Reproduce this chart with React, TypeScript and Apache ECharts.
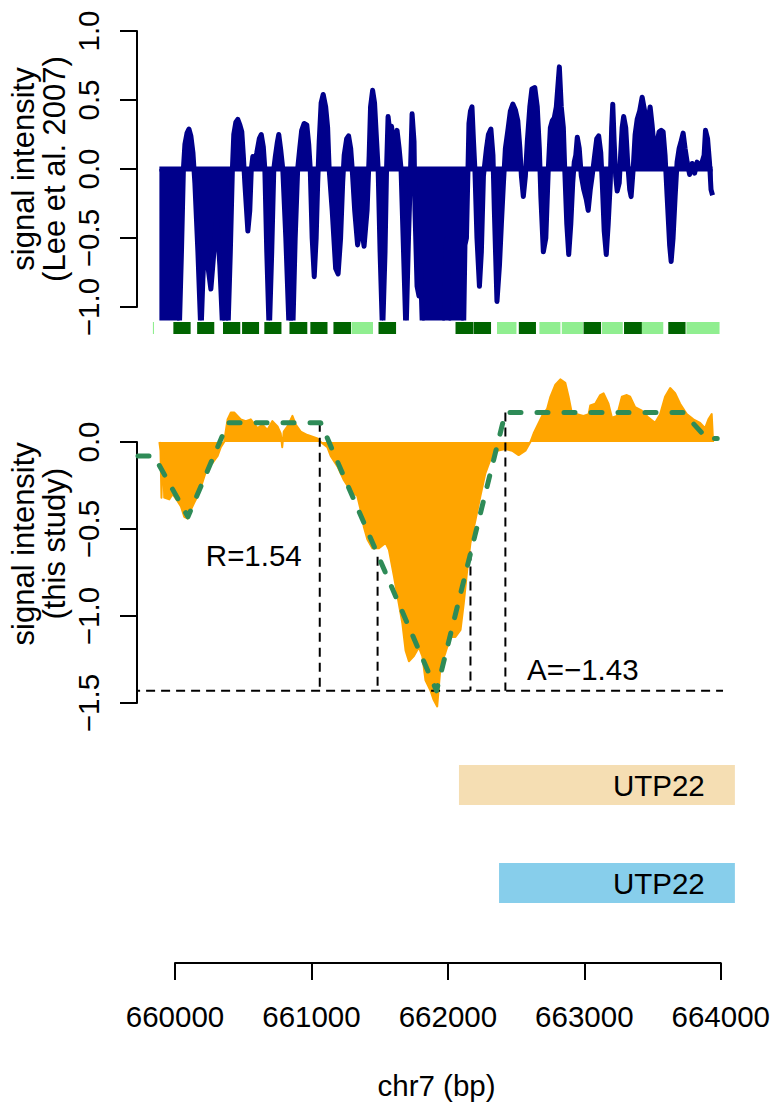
import React, { useEffect, useRef } from "react";
import * as echarts from "echarts";

// ---------- data ----------
const X_MIN = 659725;
const X_MAX = 664058;
const X_TICK_MIN = 660000;
const X_TICK_MAX = 664000;
const X_TICK_STEP = 1000;

// Lee et al. 2007 signal: [position (bp), intensity]
const leeSignal: number[][] = [
  [659880, -1.3], [659964, -1.3], [660022, -1.25], [660040, -0.6], [660054, 0], [660065, 0.18], [660080, 0.26],
  [660094, 0.29], [660108, 0.24], [660123, 0.12], [660137, -0.1], [660159, -0.6], [660181, -1.2], [660195, -0.8], [660210, -0.5],
  [660231, -0.7], [660253, -0.87], [660275, -0.6], [660296, -0.35], [660318, -0.7], [660340, -1.2], [660376, -1.2], [660394, -0.6],
  [660409, 0], [660419, 0.25], [660434, 0.34], [660448, 0.36], [660463, 0.32], [660477, 0.27], [660488, 0.1], [660499, -0.1],
  [660521, -0.45], [660535, -0.3], [660546, 0], [660557, 0.09], [660571, 0.05], [660586, 0.12], [660604, 0.22], [660618, 0.25],
  [660633, 0.16], [660644, 0], [660658, -0.6], [660676, -1.2], [660694, -0.6], [660709, 0], [660720, 0.09], [660734, 0.19],
  [660745, 0.25], [660759, 0.14], [660774, 0], [660796, -0.5], [660821, -1.2], [660846, -1.2], [660864, -0.5], [660882, 0],
  [660897, 0.15], [660911, 0.28], [660929, 0.33], [660948, 0.32], [660962, 0.18], [660973, 0], [660987, -0.5], [661002, -0.78],
  [661016, -0.5], [661027, -0.1], [661038, 0.2], [661052, 0.48], [661067, 0.54], [661085, 0.45], [661099, 0.3], [661110, 0],
  [661132, -0.3], [661157, -0.72], [661175, -0.76], [661193, -0.5], [661208, -0.1], [661219, 0.1], [661237, 0.22], [661251, 0.24],
  [661266, 0.15], [661277, 0], [661295, -0.3], [661316, -0.55], [661342, -0.4], [661363, -0.56], [661385, -0.3], [661400, 0.1],
  [661410, 0.45], [661425, 0.57], [661439, 0.48], [661454, 0.2], [661465, 0], [661479, -0.6], [661497, -1.2], [661515, -0.6],
  [661526, 0], [661537, 0.38], [661552, 0.25], [661562, 0.31], [661577, 0.2], [661591, 0.22], [661602, 0.28], [661617, 0.15],
  [661631, 0], [661649, -0.6], [661667, -1.2], [661685, -0.5], [661700, 0], [661711, 0.4], [661725, 0.2], [661732, -0.3],
  [661747, -0.85], [661761, -0.92], [661772, -0.7], [661787, -1.2], [661946, -1.25], [661957, -0.55], [661967, -0.5], [661978, -1.25],
  [662083, -1.25], [662094, -0.55], [662105, -0.5], [662116, 0], [662123, 0.33], [662134, 0.42], [662145, 0.45], [662156, 0.2],
  [662166, 0], [662181, -0.5], [662199, -0.85], [662213, -0.6], [662228, -0.05], [662239, 0.05], [662250, 0.15], [662264, 0.25],
  [662282, 0.29], [662297, 0.1], [662307, -0.3], [662326, -0.96], [662344, -0.7], [662358, -0.4], [662373, -0.1], [662387, 0.15],
  [662405, 0.28], [662423, 0.42], [662441, 0.47], [662459, 0.43], [662477, 0.35], [662492, 0.15], [662503, -0.05], [662517, -0.2],
  [662532, -0.05], [662546, 0.2], [662564, 0.45], [662579, 0.58], [662600, 0.59], [662618, 0.45], [662633, 0.15], [662644, -0.2],
  [662662, -0.6], [662680, -0.5], [662698, 0], [662713, 0.3], [662727, 0.35], [662741, 0.37], [662756, 0.45], [662778, 0.74],
  [662792, 0.45], [662807, 0.3], [662817, 0], [662832, -0.4], [662846, -0.62], [662861, -0.4], [662875, -0.1], [662886, 0.05],
  [662897, 0.1], [662908, 0.23], [662922, 0.15], [662937, -0.05], [662955, -0.15], [662973, -0.22], [662987, -0.3], [663002, -0.15],
  [663016, -0.05], [663034, 0.1], [663049, 0.22], [663063, 0.24], [663078, 0.12], [663089, -0.1], [663103, -0.45], [663118, -0.62],
  [663132, -0.4], [663147, -0.1], [663157, 0.3], [663165, 0.47], [663175, 0.2], [663186, -0.05], [663197, -0.16], [663212, -0.1],
  [663222, 0.1], [663233, 0.3], [663244, 0.38], [663259, 0.3], [663273, 0.05], [663288, -0.15], [663298, -0.2], [663313, 0],
  [663327, 0.25], [663342, 0.36], [663360, 0.42], [663378, 0.52], [663396, 0.42], [663411, 0.32], [663421, 0.35], [663436, 0.45],
  [663450, 0.32], [663465, 0.15], [663476, 0.1], [663487, 0.2], [663501, 0.27], [663516, 0.28], [663530, 0.27], [663544, 0.1],
  [663559, -0.2], [663577, -0.55], [663588, -0.67], [663602, -0.5], [663617, -0.2], [663631, 0.05], [663646, 0.15], [663660, 0.2],
  [663675, 0.26], [663689, 0.15], [663704, 0.05], [663722, -0.04], [663740, 0.04], [663758, -0.03], [663776, 0.05], [663794, 0.02],
  [663812, 0.05], [663827, 0.1], [663837, 0.28], [663852, 0.22], [663866, 0.05], [663877, -0.15], [663888, -0.19],
];

// this study signal: [position (bp), intensity]
const studySignal: number[][] = [
  [659880, 0], [659888, -0.05], [659895, -0.32], [659906, -0.05], [659915, -0.32], [659951, -0.33], [659976, -0.3], [660012, -0.34],
  [660036, -0.37], [660060, -0.43], [660085, -0.44], [660108, -0.39], [660132, -0.35], [660157, -0.31], [660181, -0.26], [660205, -0.2],
  [660229, -0.14], [660265, -0.12], [660302, -0.08], [660325, -0.03], [660349, 0], [660374, 0.13], [660398, 0.17], [660422, 0.17],
  [660446, 0.15], [660470, 0.13], [660506, 0.12], [660542, 0.13], [660591, 0.08], [660627, 0.1], [660663, 0.07], [660699, 0.12],
  [660736, 0.09], [660759, 0.05], [660770, -0.03], [660781, 0.06], [660808, 0.09], [660844, 0.15], [660868, 0.1], [660904, 0.06],
  [660953, 0.04], [661025, 0.02], [661049, 0], [661097, -0.03], [661121, -0.08], [661170, -0.14], [661217, -0.22], [661266, -0.28],
  [661314, -0.31], [661338, -0.39], [661362, -0.49], [661387, -0.56], [661423, -0.61], [661471, -0.61], [661519, -0.58], [661543, -0.62],
  [661579, -0.77], [661615, -0.93], [661640, -1.04], [661664, -1.2], [661688, -1.26], [661724, -1.23], [661760, -1.18], [661785, -1.23],
  [661808, -1.37], [661845, -1.43], [661866, -1.48], [661893, -1.52], [661917, -1.29], [661953, -1.21], [661989, -1.12], [662025, -1.12],
  [662062, -1.08], [662085, -0.93], [662110, -0.74], [662134, -0.58], [662170, -0.45], [662206, -0.31], [662242, -0.18], [662279, -0.1],
  [662327, -0.05], [662387, -0.04], [662436, -0.05], [662483, -0.075], [662532, -0.05], [662568, 0], [662592, 0.05], [662616, 0.09],
  [662653, 0.15], [662689, 0.19], [662713, 0.26], [662749, 0.33], [662785, 0.36], [662821, 0.34], [662845, 0.26], [662870, 0.16],
  [662906, 0.16], [662953, 0.15], [662990, 0.16], [663002, 0.21], [663038, 0.22], [663074, 0.27], [663098, 0.28], [663134, 0.22],
  [663159, 0.14], [663195, 0.15], [663231, 0.26], [663267, 0.27], [663291, 0.26], [663327, 0.2], [663376, 0.18], [663424, 0.14],
  [663472, 0.11], [663508, 0.16], [663544, 0.26], [663581, 0.31], [663617, 0.28], [663653, 0.22], [663701, 0.16], [663749, 0.13],
  [663798, 0.11], [663834, 0.08], [663858, 0.13], [663882, 0.16], [663892, 0],
];

// piecewise-linear fit (green dashed)
const fitX = [659725, 659841, 660087, 660376, 661049, 661888, 662387, 663675, 663848, 663922];
const fitY = [-0.08, -0.08, -0.43, 0.11, 0.11, -1.43, 0.17, 0.17, 0.02, 0.02];

// black dashed guide segments
const guideX1 = [659675, 661042, 661461, 662134, 662387];
const guideY1 = [-1.43, 0.11, -0.66, -0.63, 0.17];
const guideX2 = [663964, 661042, 661461, 662134, 662387];
const guideY2 = [-1.43, -1.43, -1.43, -1.43, -1.43];

// annotations
const annotX = [660564, 662948];
const annotY = [-0.655, -1.31];
const annotText = ["R=1.54", "A=\u22121.43"];

// feature strip under top panel (d = dark, l = light)
const stripStart = [659840, 659988, 660160, 660347, 660485, 660646, 660828, 660979, 661146, 661277, 661472, 662029, 662159, 662329, 662487, 662636, 662798, 662955, 663089, 663248, 663378, 663568, 663699];
const stripEnd = [659848, 660113, 660284, 660472, 660608, 660770, 660957, 661103, 661273, 661432, 661599, 662156, 662286, 662470, 662611, 662788, 662951, 663082, 663239, 663377, 663532, 663693, 663939];
const stripKind = ["l", "d", "d", "d", "d", "d", "d", "d", "d", "l", "d", "d", "d", "l", "d", "l", "l", "d", "l", "d", "l", "d", "l"];

// gene annotations
const geneStart = [662054, 662344];
const geneEnd = [664050, 664050];
const geneRow = [2, 1];
const geneLabelX = [663500, 663500];
const geneName = ["UTP22", "UTP22"];

// ---------- style / layout ----------
const FONT = "'Liberation Sans', Arial, Helvetica, sans-serif";
const NAVY = "#00008B";
const ORANGE = "#FFA500";
const SEAGREEN = "#2E8B57";
const DARKGREEN = "#006400";
const LIGHTGREEN = "#90EE90";
const GENE_COLORS = ["#F5DEB3", "#87CEEB"];
const LABEL_SIZE = 29.5;

const PLOT_LEFT = 137;
const PLOT_W = 599;
const PX_PER_BP = PLOT_W / (X_MAX - X_MIN);
const Y1_TOP = 31; // value 1.0
const Y1_UNIT = 138;
const Y2_ZERO = 442;
const Y2_UNIT = 174;

const fmt = (v: number) => {
  const r = Math.round(v * 10) / 10;
  if (r === 0) return "0.0";
  return (r < 0 ? "\u2212" : "") + Math.abs(r).toFixed(1);
};

function buildOption() {
  const hiddenX = (gi: number, min = X_MIN, max = X_MAX) => ({
    type: "value", gridIndex: gi, min, max, show: false, splitLine: { show: false },
    axisLine: { onZero: false },
  });
  const hiddenY = (gi: number, min: number, max: number) => ({
    type: "value", gridIndex: gi, min, max, show: false, splitLine: { show: false },
    axisLine: { show: false, onZero: false },
  });
  const visibleY = (gi: number, min: number, max: number) => ({
    type: "value", gridIndex: gi, min, max, interval: 0.5,
    splitLine: { show: false },
    axisLine: { show: true, onZero: false, lineStyle: { color: "#000", width: 2 } },
    axisTick: { show: true, length: 17, lineStyle: { color: "#000", width: 2 } },
    axisLabel: { show: true, rotate: 90, margin: 34, fontSize: LABEL_SIZE, color: "#000", fontFamily: FONT, formatter: fmt },
  });
  const yName = (gi: number, min: number, max: number, name: string) => ({
    type: "value", gridIndex: gi, min, max, show: true,
    splitLine: { show: false },
    axisLine: { show: false, onZero: false },
    axisTick: { show: false },
    axisLabel: { show: false },
    name, nameLocation: "middle", nameRotate: 90, nameGap: 68,
    nameTextStyle: { fontSize: 31, lineHeight: 31, color: "#000", fontFamily: FONT },
  });

  const grid = [
    { left: PLOT_LEFT, width: PLOT_W, top: Y1_TOP - 0.08 * Y1_UNIT, height: 2.16 * Y1_UNIT },
    { left: PLOT_LEFT, width: PLOT_W, top: Y1_TOP, height: 2 * Y1_UNIT },
    { left: PLOT_LEFT, width: PLOT_W, top: 322, height: 12 },
    { left: PLOT_LEFT, width: PLOT_W, top: Y2_ZERO - 0.43 * Y2_UNIT, height: 2.03 * Y2_UNIT },
    { left: PLOT_LEFT, width: PLOT_W, top: Y2_ZERO, height: 1.5 * Y2_UNIT },
    { left: PLOT_LEFT, width: PLOT_W, top: 736, height: 196 },
    { left: PLOT_LEFT + (X_TICK_MIN - X_MIN) * PX_PER_BP, width: (X_TICK_MAX - X_TICK_MIN) * PX_PER_BP, top: 900, height: 63 },
    { left: PLOT_LEFT, width: PLOT_W, top: 900, height: 63 },
  ];

  const xAxis: any[] = [
    hiddenX(0), hiddenX(1), hiddenX(2), hiddenX(3), hiddenX(4), hiddenX(5),
    {
      type: "value", gridIndex: 6, min: X_TICK_MIN, max: X_TICK_MAX, interval: X_TICK_STEP, position: "bottom",
      splitLine: { show: false },
      axisLine: { show: true, onZero: false, lineStyle: { color: "#000", width: 2 } },
      axisTick: { show: true, length: 17, lineStyle: { color: "#000", width: 2 } },
      axisLabel: { show: true, margin: 38, fontSize: LABEL_SIZE, color: "#000", fontFamily: FONT, formatter: (v: number) => String(v) },
    },
    {
      type: "value", gridIndex: 7, min: X_MIN, max: X_MAX, position: "bottom", show: true,
      splitLine: { show: false },
      axisLine: { show: false, onZero: false }, axisTick: { show: false }, axisLabel: { show: false },
      name: "chr7 (bp)", nameLocation: "middle", nameGap: 107,
      nameTextStyle: { fontSize: LABEL_SIZE, color: "#000", fontFamily: FONT },
    },
  ];

  const yAxis: any[] = [
    yName(0, -1.08, 1.08, "signal intensity\n(Lee et al. 2007)"),
    visibleY(1, -1, 1),
    hiddenY(2, 0, 1),
    yName(3, -1.6, 0.43, "signal intensity\n(this study)"),
    visibleY(4, -1.5, 0),
    hiddenY(5, 0.5, 2.5),
    hiddenY(6, 0, 1),
    hiddenY(7, 0, 1),
  ];

  const series: any[] = [];

  series.push({
    type: "line", xAxisIndex: 0, yAxisIndex: 0, data: leeSignal, symbol: "none", silent: true,
    lineStyle: { color: NAVY, width: 5, join: "round" },
    areaStyle: { color: NAVY, opacity: 1 }, z: 2,
  });
  series.push({
    type: "line", xAxisIndex: 0, yAxisIndex: 0, symbol: "none", silent: true,
    data: [[leeSignal[0][0], 0], [leeSignal[leeSignal.length - 1][0], 0]],
    lineStyle: { color: NAVY, width: 5 }, z: 2,
  });

  series.push({
    type: "custom", xAxisIndex: 2, yAxisIndex: 2, silent: true,
    data: stripStart.map((s, i) => [s, stripEnd[i], stripKind[i] === "d" ? 1 : 0]),
    encode: { x: [0, 1], y: 2 },
    renderItem: (params: any, api: any) => {
      const p1 = api.coord([api.value(0), 1]);
      const p2 = api.coord([api.value(1), 0]);
      return {
        type: "rect",
        shape: { x: p1[0], y: p1[1], width: p2[0] - p1[0], height: p2[1] - p1[1] },
        style: { fill: api.value(2) === 1 ? DARKGREEN : LIGHTGREEN },
      };
    },
  });

  series.push({
    type: "line", xAxisIndex: 3, yAxisIndex: 3, data: studySignal, symbol: "none", silent: true,
    lineStyle: { color: ORANGE, width: 2, join: "round" },
    areaStyle: { color: ORANGE, opacity: 1 }, z: 2,
  });

  guideX1.forEach((x1, i) => {
    series.push({
      type: "line", xAxisIndex: 3, yAxisIndex: 3, symbol: "none", silent: true, clip: false,
      data: [[x1, guideY1[i]], [guideX2[i], guideY2[i]]],
      lineStyle: { color: "#000", width: 2, type: [9, 6] }, z: 3,
    });
  });

  series.push({
    type: "line", xAxisIndex: 3, yAxisIndex: 3, symbol: "none", silent: true, clip: false,
    data: fitX.map((x, i) => [x, fitY[i]]),
    lineStyle: { color: SEAGREEN, width: 5, type: [11, 16], cap: "round", join: "round" }, z: 4,
  });

  series.push({
    type: "custom", xAxisIndex: 3, yAxisIndex: 3, silent: true,
    data: annotX.map((x, i) => [x, annotY[i], i]),
    encode: { x: 0, y: 1 },
    renderItem: (params: any, api: any) => {
      const p = api.coord([api.value(0), api.value(1)]);
      return {
        type: "text", x: p[0], y: p[1],
        style: {
          text: annotText[api.value(2)], fill: "#000", fontSize: LABEL_SIZE, fontFamily: FONT,
          align: "center", verticalAlign: "middle",
        },
      };
    },
    z: 5,
  });

  series.push({
    type: "custom", xAxisIndex: 5, yAxisIndex: 5, silent: true,
    data: geneStart.map((s, i) => [s, geneEnd[i], geneRow[i], geneLabelX[i], i]),
    encode: { x: [0, 1, 3], y: 2 },
    renderItem: (params: any, api: any) => {
      const row = api.value(2);
      const idx = api.value(4);
      const p1 = api.coord([api.value(0), row + 0.204]);
      const p2 = api.coord([api.value(1), row - 0.204]);
      const t = api.coord([api.value(3), row]);
      return {
        type: "group",
        children: [
          {
            type: "rect",
            shape: { x: p1[0], y: p1[1], width: p2[0] - p1[0], height: p2[1] - p1[1] },
            style: { fill: GENE_COLORS[idx] },
          },
          {
            type: "text", x: t[0], y: t[1],
            style: { text: geneName[idx], fill: "#000", fontSize: LABEL_SIZE, fontFamily: FONT, align: "center", verticalAlign: "middle" },
          },
        ],
      };
    },
  });

  return {
    animation: false,
    backgroundColor: "#ffffff",
    textStyle: { fontFamily: FONT },
    grid,
    xAxis,
    yAxis,
    series,
  };
}

export default function App() {
  const ref = useRef<HTMLDivElement>(null);
  useEffect(() => {
    if (!ref.current) return;
    const chart = echarts.init(ref.current, null, { renderer: "svg" });
    chart.setOption(buildOption() as any);
    return () => chart.dispose();
  }, []);
  return (
    <div
      ref={ref}
      style={{ position: "fixed", left: 0, top: 0, width: 773, height: 1103, background: "#fff" }}
    />
  );
}
